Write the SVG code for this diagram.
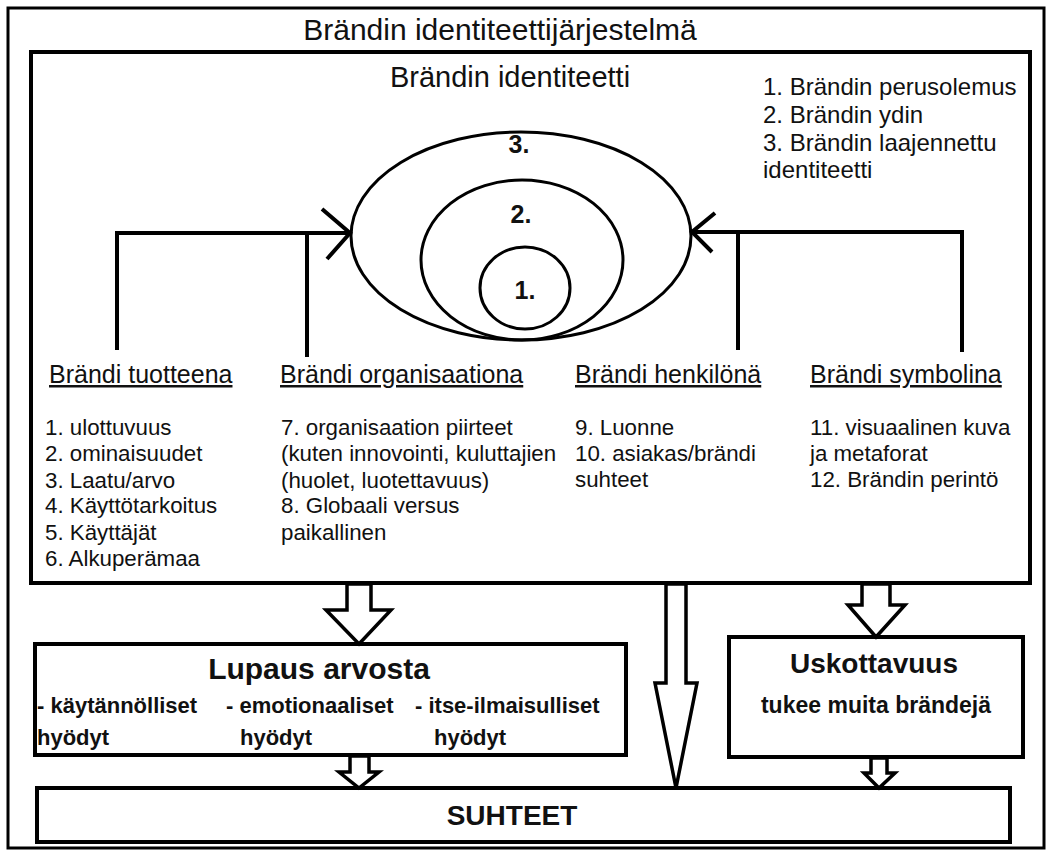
<svg xmlns="http://www.w3.org/2000/svg" width="1052" height="855" viewBox="0 0 1052 855">
<style>
text{font-family:"Liberation Sans",Arial,sans-serif;fill:#111}
.frame{fill:none;stroke:#000;stroke-width:3}
.box{fill:#fff;stroke:#000;stroke-width:4}
.ell{fill:none;stroke:#000;stroke-width:3}
.ln{fill:none;stroke:#000;stroke-width:4}
.blk{fill:#fff;stroke:#000;stroke-width:3.5;stroke-linejoin:miter}
.hd{font-size:25px;text-decoration:underline}
.li{font-size:22.3px}
.lg{font-size:24px}
.num{font-size:25px;font-weight:bold}
.b{font-weight:bold}
</style>
<rect x="0" y="0" width="1052" height="855" fill="#fff"/>
<g id="system">
<rect class="frame" x="8" y="8" width="1036" height="840"/>
<text x="500" y="40" font-size="30" text-anchor="middle">Brändin identiteettijärjestelmä</text>
</g>
<g id="identity">
<rect class="box" x="31" y="52" width="999" height="531"/>
<text x="510" y="87" font-size="29" text-anchor="middle">Brändin identiteetti</text>
<text class="lg" x="763" y="95">1. Brändin perusolemus</text>
<text class="lg" x="763" y="123">2. Brändin ydin</text>
<text class="lg" x="763" y="151">3. Brändin laajennettu</text>
<text class="lg" x="763" y="178">identiteetti</text>
</g>
<g id="ellipse3">
<ellipse class="ell" cx="521" cy="236" rx="170" ry="104"/>
<text class="num" x="519" y="153" text-anchor="middle">3.</text>
</g>
<g id="ellipse2">
<ellipse class="ell" cx="522" cy="260" rx="101" ry="80"/>
<text class="num" x="521" y="223" text-anchor="middle">2.</text>
</g>
<g id="ellipse1">
<ellipse class="ell" cx="525" cy="288" rx="45" ry="41"/>
<text class="num" x="525" y="299" text-anchor="middle">1.</text>
</g>
<g id="col-tuotteena">
<text class="hd" x="49" y="383">Brändi tuotteena</text>
<text class="li" x="45" y="435">1. ulottuvuus</text>
<text class="li" x="45" y="461">2. ominaisuudet</text>
<text class="li" x="45" y="488">3. Laatu/arvo</text>
<text class="li" x="45" y="513">4. Käyttötarkoitus</text>
<text class="li" x="45" y="540">5. Käyttäjät</text>
<text class="li" x="45" y="566">6. Alkuperämaa</text>
</g>
<g id="col-organisaationa">
<text class="hd" x="280" y="383">Brändi organisaationa</text>
<text class="li" x="281" y="435">7. organisaation piirteet</text>
<text class="li" x="281" y="461">(kuten innovointi, kuluttajien</text>
<text class="li" x="281" y="488">(huolet, luotettavuus)</text>
<text class="li" x="281" y="513">8. Globaali versus</text>
<text class="li" x="281" y="540">paikallinen</text>
</g>
<g id="col-henkilona">
<text class="hd" x="575" y="383">Brändi henkilönä</text>
<text class="li" x="575" y="435">9. Luonne</text>
<text class="li" x="575" y="461">10. asiakas/brändi</text>
<text class="li" x="575" y="487">suhteet</text>
</g>
<g id="col-symbolina">
<text class="hd" x="810" y="383">Brändi symbolina</text>
<text class="li" x="810" y="435">11. visuaalinen kuva</text>
<text class="li" x="810" y="461">ja metaforat</text>
<text class="li" x="810" y="487">12. Brändin perintö</text>
</g>
<g id="lupaus">
<rect class="box" x="35" y="644" width="591" height="111"/>
<text x="319" y="679" font-size="30" font-weight="bold" text-anchor="middle">Lupaus arvosta</text>
<text class="b" x="37" y="713" font-size="22">- käytännölliset</text>
<text class="b" x="226" y="713" font-size="22">- emotionaaliset</text>
<text class="b" x="415" y="713" font-size="22">- itse-ilmaisulliset</text>
<text class="b" x="37" y="745" font-size="22">hyödyt</text>
<text class="b" x="240" y="745" font-size="22">hyödyt</text>
<text class="b" x="434" y="745" font-size="22">hyödyt</text>
</g>
<g id="uskottavuus">
<rect class="box" x="729" y="637" width="294" height="120"/>
<text x="874" y="673" font-size="28" font-weight="bold" text-anchor="middle">Uskottavuus</text>
<text x="876" y="713" font-size="23" font-weight="bold" text-anchor="middle">tukee muita brändejä</text>
</g>
<g id="suhteet">
<rect class="box" x="37" y="788" width="973" height="54"/>
<text x="512" y="825" font-size="28" font-weight="bold" text-anchor="middle">SUHTEET</text>
</g>
<g id="connectors">
<path class="ln" d="M117 350 V233 H350"/>
<path class="ln" d="M307 357 V233"/>
<path class="ln" d="M322 209 L350 233 L327 259"/>
<path class="ln" d="M962 352 V232 H692"/>
<path class="ln" d="M738 350 V232"/>
<path class="ln" d="M715 213 L692 232 L712 252"/>
<polygon class="blk" points="347,584 371,584 371,610 391,610 359,644 326,610 347,610"/>
<polygon class="blk" points="666,584 686,584 686,683 697,683 676,788 655,683 666,683"/>
<polygon class="blk" points="862,584 890,584 890,605 905,605 876,637 848,605 862,605"/>
<polygon class="blk" points="350,756 369,756 369,772 379,772 359,788 339,772 350,772"/>
<polygon class="blk" points="871,758 887,758 887,773 895,773 879,788 864,773 871,773"/>
</g>
</svg>
